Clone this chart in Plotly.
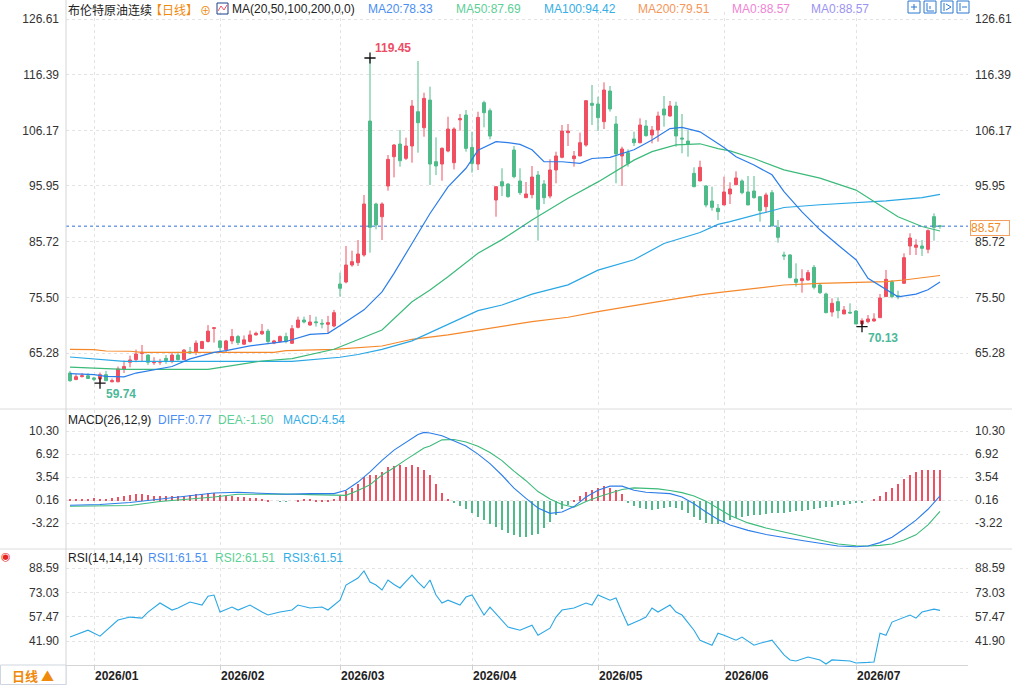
import plotly.graph_objects as go

# ---------------- data ----------------
month_labels = ["2026/01", "2026/02", "2026/03", "2026/04", "2026/05", "2026/06", "2026/07"]
month_start_idx = [4, 25, 45, 67, 88, 109, 131]

opens = [61.6, 60.4, 60.95, 61.1, 60.7, 60.5, 61.3, 60.0, 60.0, 62.35,
         63.57, 64.06, 65.2, 64.9, 63.5, 63.6, 64.3, 63.7, 64.9, 64.06,
         65.5, 65.5, 66.1, 67.4, 69.8, 67.5, 65.9, 67.5, 68.3, 66.9,
         67.4, 68.6, 68.8, 69.3, 67.1, 67.4, 68.3, 67.06, 69.99, 71.34,
         70.42, 71.0, 70.73, 70.55, 70.24, 77.95, 78.32, 81.44, 81.87, 83.28,
         107.88, 92.64, 90.3, 95.95, 101.33, 103.66, 101.03, 103.29, 109.59, 106.65,
         111.73, 100.41, 99.98, 102.37, 100.23, 108.1, 108.98, 103.04, 99.98, 111.25,
         109.78, 93.37, 96.74, 96.3, 102.56, 96.87, 93.8, 94.36, 97.97, 96.32,
         94.1, 98.89, 101.21, 105.74, 100.97, 101.46, 103.47, 111.13, 111.0, 107.76,
         113.39, 107.33, 101.46, 102.07, 104.58, 103.9, 106.96, 105.31, 106.23, 110.09,
         108.8, 110.64, 104.76, 104.21, 98.27, 96.87, 95.95, 93.19, 91.85, 92.46,
         94.48, 96.19, 96.87, 94.85, 95.03, 93.99, 92.15, 94.72, 88.36, 83.28,
         83.28, 78.87, 78.57, 78.69, 81.01, 77.77, 76.12, 72.81, 74.71, 72.45,
         72.75, 72.99, 70.61, 71.04, 71.16, 71.77, 75.63, 78.38, 75.8, 78.08,
         84.93, 84.69, 84.93, 84.32, 90.32, 88.6]
highs = [62.0, 61.36, 61.6, 61.55, 60.9, 61.7, 62.0, 60.6, 62.8, 63.9,
         64.8, 65.9, 66.75, 65.0, 64.5, 64.2, 64.9, 65.3, 65.5, 66.0,
         66.4, 67.6, 67.5, 70.4, 70.0, 67.7, 67.7, 69.7, 68.6, 68.5,
         69.4, 69.2, 70.6, 69.7, 67.7, 68.5, 69.0, 70.4, 71.96, 71.96,
         72.26, 71.96, 71.5, 72.1, 73.2, 80.03, 84.93, 84.07, 86.03, 94.3,
         119.45, 92.88, 92.94, 101.64, 103.66, 106.23, 104.82, 111.73, 118.9, 113.08,
         114.18, 104.88, 103.04, 108.67, 106.72, 109.16, 109.9, 105.92, 109.59, 111.61,
         110.2, 95.95, 99.19, 96.5, 103.3, 99.19, 96.68, 99.62, 98.7, 97.05,
         100.85, 102.25, 107.15, 107.33, 102.37, 105.74, 111.74, 114.49, 112.35, 114.98,
         114.31, 108.8, 103.17, 102.68, 105.92, 108.37, 108.07, 106.96, 109.6, 112.47,
         111.55, 111.43, 109.17, 106.23, 99.38, 100.6, 96.13, 95.83, 92.64, 97.66,
         96.62, 98.64, 97.17, 97.78, 97.78, 93.99, 94.72, 95.21, 89.71, 83.89,
         83.46, 81.75, 80.65, 80.53, 81.44, 77.95, 76.36, 75.32, 75.51, 73.9,
         74.4, 73.18, 71.65, 72.26, 72.57, 76.12, 80.53, 78.69, 76.73, 83.59,
         87.26, 86.16, 86.03, 87.99, 90.93, 88.8]
lows = [60.0, 60.3, 60.8, 60.5, 60.1, 59.74, 60.1, 59.9, 59.9, 61.6,
        62.65, 63.57, 63.7, 63.1, 63.1, 63.1, 63.3, 63.4, 63.9, 64.0,
        65.1, 64.9, 66.0, 67.2, 67.2, 65.5, 65.5, 66.9, 66.75, 66.75,
        67.2, 68.5, 68.6, 66.9, 66.9, 67.2, 67.05, 66.94, 69.8, 70.73,
        70.3, 70.12, 69.8, 68.9, 70.0, 75.63, 78.07, 81.13, 81.26, 82.97,
        83.71, 87.99, 86.03, 95.09, 97.54, 99.5, 100.72, 100.23, 102.06, 105.0,
        96.13, 97.96, 96.92, 102.13, 99.0, 106.1, 102.25, 98.39, 98.88, 106.72,
        104.51, 90.31, 94.11, 93.8, 97.36, 94.3, 93.8, 93.68, 85.91, 92.64,
        93.68, 96.44, 101.03, 103.29, 99.5, 101.46, 103.17, 107.15, 106.04, 106.41,
        109.6, 96.44, 95.95, 99.5, 103.29, 103.78, 105.01, 103.78, 104.09, 106.84,
        108.68, 103.17, 101.95, 101.33, 95.7, 96.87, 92.03, 91.42, 89.71, 92.46,
        92.64, 96.07, 94.42, 92.46, 93.62, 89.4, 91.05, 88.6, 85.54, 82.36,
        78.99, 77.47, 76.36, 78.57, 76.97, 76.12, 72.57, 71.96, 71.65, 72.45,
        72.57, 70.61, 70.13, 70.73, 71.04, 71.77, 75.63, 75.32, 75.14, 77.95,
        83.28, 83.28, 83.1, 83.59, 85.91, 88.1]
closes = [60.2, 60.93, 61.1, 60.6, 60.45, 61.3, 60.2, 60.2, 62.35, 62.8,
          64.0, 65.1, 65.4, 63.57, 63.7, 63.7, 63.9, 64.9, 64.06, 65.8,
          65.28, 67.1, 67.4, 69.3, 69.9, 66.3, 67.5, 68.3, 67.2, 67.7,
          68.6, 68.9, 69.25, 67.4, 67.5, 68.3, 67.4, 69.75, 71.34, 70.97,
          70.97, 70.85, 70.6, 70.85, 72.69, 77.16, 81.44, 82.05, 83.46, 92.64,
          88.36, 88.78, 92.64, 100.84, 103.47, 100.6, 103.29, 110.63, 107.57, 112.04,
          99.98, 99.62, 102.86, 106.41, 106.41, 108.3, 102.86, 100.1, 108.55, 109.41,
          105.12, 95.82, 95.95, 93.99, 97.66, 94.72, 94.48, 97.6, 91.67, 93.8,
          98.89, 101.46, 106.04, 106.04, 101.46, 103.9, 111.62, 110.76, 108.5, 113.57,
          110.09, 101.83, 102.74, 100.1, 103.9, 107.15, 105.19, 106.23, 108.8, 108.98,
          110.64, 105.13, 104.58, 103.66, 95.83, 99.38, 92.46, 92.03, 91.24, 94.85,
          95.4, 97.42, 94.72, 92.46, 93.81, 91.42, 94.3, 88.6, 86.52, 83.1,
          79.12, 78.26, 78.93, 80.04, 77.34, 76.36, 72.69, 74.4, 73.06, 73.18,
          72.62, 70.61, 71.22, 71.53, 71.53, 75.38, 78.81, 75.63, 75.63, 82.79,
          86.4, 85.11, 84.5, 87.75, 88.36, 88.57]

ma20_idx = [0, 4, 6, 9, 11, 14, 17, 20, 24, 26, 30, 33, 36, 40, 43, 46, 49, 52, 54, 57, 60, 63, 66, 68, 71,
            73, 75, 77, 79, 82, 85, 87, 90, 94, 97, 100, 102, 105, 107, 109, 111, 114, 117, 119, 122, 125,
            128, 131, 133, 136, 138, 141, 143, 145]
ma20_val = [61.5, 61.3, 61.0, 60.9, 61.6, 62.2, 62.8, 64.2, 65.4, 65.7, 66.6, 67.0, 67.4, 68.7, 68.9, 71.0,
            73.2, 76.5, 79.9, 85.4, 90.9, 95.8, 99.2, 102.5, 104.1, 103.9, 103.6, 102.6, 100.4, 100.4,
            100.1, 101.0, 101.2, 102.6, 104.4, 106.5, 106.7, 105.9, 104.4, 103.0, 101.3, 99.8, 98.0, 94.9,
            91.2, 87.9, 85.1, 82.4, 79.0, 76.9, 75.6, 76.1, 76.9, 78.33]
ma50_idx = [0, 6, 9, 23, 26, 32, 37, 44, 52, 57, 60, 63, 68, 72, 77, 83, 88, 94, 97, 101, 105, 108, 110,
            114, 119, 125, 131, 134, 138, 142, 145]
ma50_val = [62.7, 62.46, 62.28, 62.28, 62.77, 63.81, 64.24, 65.96, 69.5, 74.7, 76.85, 79.3, 83.6, 86.1,
            89.7, 93.7, 96.7, 100.7, 102.25, 103.5, 103.7, 102.8, 102.4, 101.0, 98.9, 97.4, 95.2, 93.1,
            90.3, 88.5, 87.69]
ma100_idx = [0, 6, 9, 37, 45, 48, 52, 57, 63, 68, 72, 77, 83, 88, 94, 99, 105, 108, 110, 114, 119, 125,
             131, 136, 142, 145]
ma100_val = [64.55, 64.1, 63.75, 63.75, 64.5, 65.0, 65.96, 67.5, 70.55, 73.05, 74.1, 76.1, 77.8, 80.5,
             82.4, 85.4, 87.4, 88.9, 89.4, 90.6, 92.0, 92.5, 92.9, 93.2, 93.8, 94.42]
ma200_idx = [0, 4, 6, 10, 12, 34, 36, 44, 52, 57, 63, 68, 72, 77, 83, 88, 94, 99, 105, 108, 114, 119,
             125, 131, 136, 139, 145]
ma200_val = [65.95, 65.9, 65.65, 65.6, 65.4, 65.4, 65.7, 65.96, 66.57, 67.8, 68.6, 69.5, 70.12, 71.04,
             71.84, 72.88, 73.98, 74.9, 75.94, 76.36, 77.16, 77.77, 78.08, 78.2, 78.38, 78.69, 79.51]

macd_hist = [0.3, 0.3, 0.3, 0.3,
             0.4, 0.3, 0.3, 0.4, 0.6, 0.8, 0.9,
             1.0, 1.0, 0.9, 0.8, 0.7, 0.7, 0.7, 0.8, 0.8, 0.9,
             1.0, 1.0, 1.2, 1.2, 0.9, 0.8, 0.7, 0.6, 0.6, 0.5,
             0.4, 0.3, 0.1, 0.0, -0.1, -0.1, 0.0, 0.2, 0.3, 0.3, 0.2, 0.1, 0.1, 0.3,
             0.8, 1.5, 2.0, 2.5, 3.5, 3.8, 3.9, 4.3, 5.0, 5.2, 5.3, 5.0, 5.3, 5.0, 4.6, 3.8,
             2.5, 1.2, 0.3,
             -0.3, -0.7, -1.2, -1.8, -2.3, -2.8, -3.3, -3.8, -4.3, -4.7, -5.0, -5.2, -5.2, -5.0,
             -4.8, -4.0, -3.0, -2.0, -1.2, -0.5, 0.2,
             0.8, 1.3, 1.7, 2.0, 2.2, 2.0, 1.6, 1.0,
             -0.3, -0.7, -1.0, -1.2, -1.3, -1.2, -1.0, -0.9,
             -1.0, -1.3, -1.8, -2.3, -2.8, -3.2, -3.4, -3.3, -3.0, -2.8,
             -2.5, -2.3, -2.2, -2.0, -2.0, -1.9, -1.8, -1.8, -1.7, -1.6, -1.5, -1.4, -1.3, -1.2,
             -1.0, -0.9, -0.8, -0.6, -0.5, -0.4,
             -0.3, -0.2, 0.0, 0.3, 0.8, 1.4,
             2.0, 2.5, 3.2, 3.9, 4.3, 4.5, 4.6, 4.6, 4.54]
diff_idx = [0, 5, 10, 15, 20, 24, 28, 32, 36, 40, 44, 46, 48, 50, 52, 54, 56, 58, 59, 60, 62, 64, 66, 68,
            70, 72, 74, 76, 78, 80, 82, 84, 86, 88, 90, 92, 94, 96, 98, 100, 102, 104, 106, 108, 110,
            113, 116, 119, 122, 125, 128, 131, 133, 135, 137, 139, 141, 143, 145]
diff_val = [-0.6, -0.5, -0.2, 0.3, 0.7, 1.2, 1.3, 1.2, 1.0, 1.1, 1.1, 1.6, 2.8, 4.3, 6.0, 7.5, 8.6, 9.8,
            10.1, 10.0, 9.6, 8.9, 8.1, 6.9, 5.5, 3.8, 1.9, 0.4, -1.0, -1.8, -1.6, -0.8, 0.6, 1.6, 2.2,
            2.2, 1.6, 1.3, 1.2, 1.1, 0.6, -0.4, -1.6, -2.7, -3.5, -4.3, -4.9, -5.4, -5.8, -6.2, -6.6,
            -6.7, -6.6, -6.1, -5.3, -4.1, -2.8, -1.2, 0.77]
dea_val = [-0.75, -0.65, -0.65, -0.05, 0.25, 0.6, 1.0, 1.05, 1.05, 0.95, 0.95, 0.85, 1.55, 2.4, 3.85,
           4.9, 6.1, 7.3, 7.8, 8.1, 9.0, 9.05, 8.7, 8.05, 7.15, 5.95, 4.4, 3.0, 1.4, 0.3, -0.5, -0.9,
           -0.05, 0.6, 1.2, 1.7, 1.95, 1.9, 1.8, 1.55, 1.25, 0.75, 0.0, -1.05, -2.1, -3.2, -3.95,
           -4.55, -5.1, -5.7, -6.3, -6.55, -6.6, -6.5, -6.3, -5.7, -4.95, -3.5, -1.5]

rsi_idx = [0, 2, 3, 5, 7, 8, 10, 12, 13, 15, 17, 18, 20, 22, 23, 24, 25, 27, 28, 30, 32, 33, 35, 37, 38,
           40, 42, 43, 45, 46, 48, 49, 50, 51, 52, 53, 54, 55, 56, 57, 58, 59, 60, 61, 62, 63, 65, 66,
           67, 68, 69, 70, 72, 73, 75, 77, 78, 80, 81, 82, 84, 86, 87, 88, 90, 91, 92, 93, 95, 96, 97,
           98, 100, 101, 102, 104, 105, 107, 108, 109, 111, 112, 114, 115, 117, 118, 119, 120, 121,
           123, 125, 126, 127, 130, 131, 133, 134, 135, 136, 137, 139, 140, 141, 142, 144, 145]
rsi_val = [44.4, 47.5, 48.8, 45.0, 52.0, 55.3, 57.2, 56.5, 60.4, 66.2, 61.7, 63.0, 66.8, 64.9, 70.6,
           71.3, 60.4, 63.6, 61.7, 64.9, 60.4, 58.5, 60.4, 61.7, 64.9, 63.0, 63.6, 61.7, 68.0, 77.7,
           82.2, 86.7, 79.6, 77.7, 74.5, 80.9, 78.0, 75.8, 80.0, 84.1, 79.6, 75.8, 80.9, 71.3, 66.2,
           68.0, 64.9, 70.0, 71.3, 64.9, 58.5, 63.6, 55.3, 50.8, 48.8, 52.0, 45.6, 50.1, 57.2, 61.7,
           63.0, 66.2, 64.9, 71.3, 68.0, 69.4, 60.4, 52.0, 55.3, 57.2, 63.0, 60.4, 64.9, 60.4, 58.5,
           48.8, 42.4, 39.2, 46.9, 45.6, 42.4, 44.4, 39.2, 40.5, 42.4, 38.0, 33.0, 29.8, 29.1, 31.7,
           29.8, 27.2, 29.8, 29.1, 27.8, 28.2, 28.5, 46.9, 45.6, 54.0, 57.2, 58.5, 56.5, 60.4, 62.3,
           61.51]

price_ticks = [126.61, 116.39, 106.17, 95.95, 85.72, 75.50, 65.28]
macd_ticks = [10.30, 6.92, 3.54, 0.16, -3.22]
rsi_ticks = [88.59, 73.03, 57.47, 41.90]

# ---------------- style / layout helpers ----------------
W, H = 1012, 685
ML, MR, MT, MB = 66, 44, 12, 20
PW, PH = W - ML - MR, H - MT - MB
def px(x): return (x - ML) / PW
def py(y): return (H - MB - y) / PH

RED = "#ef5061"
GREEN = "#4fbb89"
C_MA20, C_MA50, C_MA100, C_MA200 = "#2b7de9", "#3cba7a", "#2aa7e4", "#f5882b"
FONT = "Liberation Sans, Arial, sans-serif"
CJK = "Noto Sans CJK SC, sans-serif"
GRID = "#e3e3e3"
TXT = "#333333"

idx = list(range(len(closes)))
XR = [-4 / 6, -4 / 6 + PW / 6]

fig = go.Figure()
fig.add_trace(go.Candlestick(
    x=idx, open=opens, high=highs, low=lows, close=closes,
    increasing=dict(line=dict(color=RED, width=1), fillcolor=RED),
    decreasing=dict(line=dict(color=GREEN, width=1), fillcolor=GREEN),
    whiskerwidth=0, xaxis="x", yaxis="y", hoverinfo="skip"))
for xi, yv, c in [(ma200_idx, ma200_val, C_MA200), (ma100_idx, ma100_val, C_MA100),
                  (ma50_idx, ma50_val, C_MA50), (ma20_idx, ma20_val, C_MA20)]:
    fig.add_trace(go.Scatter(x=xi, y=yv, mode="lines", line=dict(color=c, width=1.2),
                             xaxis="x", yaxis="y", hoverinfo="skip"))

# extreme markers
ext_i = [50, 5, 132]
ext_v = [highs[50], lows[5], lows[132]]
fig.add_trace(go.Scatter(x=ext_i, y=ext_v, mode="markers", xaxis="x", yaxis="y",
                         marker=dict(symbol="cross-thin", size=8, line=dict(width=1.3, color="#111")),
                         hoverinfo="skip"))

fig.add_trace(go.Bar(x=idx, y=macd_hist, width=0.2,
                     marker=dict(color=[RED if v >= 0 else GREEN for v in macd_hist], line=dict(width=0)),
                     xaxis="x2", yaxis="y2", hoverinfo="skip"))
fig.add_trace(go.Scatter(x=diff_idx, y=dea_val, mode="lines", line=dict(color=C_MA50, width=1.1),
                         xaxis="x2", yaxis="y2", hoverinfo="skip"))
fig.add_trace(go.Scatter(x=diff_idx, y=diff_val, mode="lines", line=dict(color=C_MA20, width=1.1),
                         xaxis="x2", yaxis="y2", hoverinfo="skip"))
fig.add_trace(go.Scatter(x=rsi_idx, y=rsi_val, mode="lines", line=dict(color=C_MA100, width=1.1),
                         xaxis="x3", yaxis="y3", hoverinfo="skip"))
# invisible anchors for right-side axes
for ya, xa, v in [("y4", "x", price_ticks[0]), ("y5", "x2", macd_ticks[0]), ("y6", "x3", rsi_ticks[0])]:
    fig.add_trace(go.Scatter(x=[0], y=[v], mode="markers", marker=dict(opacity=0), xaxis=xa, yaxis=ya,
                             hoverinfo="skip"))

tickfont = dict(family=FONT, size=12, color=TXT)
def yax(dom, rng, ticks, side="left", overlay=None, grid=True, anchor="x"):
    d = dict(domain=dom, range=rng, tickvals=ticks, ticktext=[f"{t:.2f}" for t in ticks], side=side,
             showgrid=grid, gridcolor=GRID, griddash="dot", zeroline=False, tickfont=tickfont,
             ticks="", fixedrange=True, anchor=anchor, ticklabelstandoff=6, automargin=False)
    if overlay:
        d["overlaying"] = overlay
    return d

main_dom = [py(408), 1.0]
macd_dom = [py(548), py(410)]
rsi_dom = [0.0, py(550)]
main_rng = [55.18, 127.9]
macd_rng = [-6.89, 13.39]
rsi_rng = [26.55, 100.1]

def xax(anchor, labels):
    d = dict(range=XR, anchor=anchor, tickvals=month_start_idx, ticktext=month_labels,
             showgrid=True, gridcolor=GRID, griddash="dot", zeroline=False, showticklabels=labels,
             rangeslider=dict(visible=False), fixedrange=True, automargin=False)
    if labels:
        d.update(ticks="outside", ticklen=4, tickcolor="#cfcfcf", ticklabelposition="outside right",
                 tickfont=dict(family=FONT, size=12, color="#222", weight="bold"),
                 showline=True, linecolor="#d5d5d5")
    else:
        d.update(ticks="")
    return d

shapes = [
    dict(type="line", xref="paper", yref="y", x0=0, x1=1, y0=closes[-1], y1=closes[-1],
         line=dict(color="#2f6fd3", width=1, dash="3px,3px")),
    dict(type="line", xref="paper", yref="paper", x0=px(0), x1=px(W), y0=py(409), y1=py(409),
         line=dict(color="#dcdcdc", width=1)),
    dict(type="line", xref="paper", yref="paper", x0=px(0), x1=px(W), y0=py(549), y1=py(549),
         line=dict(color="#dcdcdc", width=1)),
    dict(type="line", xref="paper", yref="paper", x0=0, x1=0, y0=py(H), y1=py(0),
         line=dict(color="#d5d5d5", width=1)),
    dict(type="rect", xref="paper", yref="paper", x0=px(0.5), x1=px(66), y0=py(684.5), y1=py(665),
         line=dict(color="#cfd6e0", width=1), fillcolor="white"),
]
# top-right toolbar icons
for x0 in [908, 924, 941, 957]:
    shapes.append(dict(type="rect", xref="paper", yref="paper", x0=px(x0), x1=px(x0 + 12),
                       y0=py(13), y1=py(1), line=dict(color="#2a78d0", width=1)))
icon_lines = [(911, 7, 917, 7), (914, 4, 914, 10), (927, 3, 927, 11), (927, 11, 934, 11), (930, 6, 930, 9),
              (944, 3, 944, 11), (946, 4, 951, 7), (946, 10, 951, 7), (960, 3, 960, 11), (962, 7, 967, 7)]
for a, b, c, d in icon_lines:
    shapes.append(dict(type="line", xref="paper", yref="paper", x0=px(a), y0=py(b), x1=px(c), y1=py(d),
                       line=dict(color="#2a78d0", width=1)))
# small chart icon in title
shapes.append(dict(type="rect", xref="paper", yref="paper", x0=px(217), x1=px(228), y0=py(14), y1=py(3),
                   line=dict(color="#1d3f8a", width=1)))
shapes.append(dict(type="path", xref="paper", yref="paper",
                   path=f"M {px(218)} {py(11)} L {px(221)} {py(6)} L {px(224)} {py(10)} L {px(227)} {py(5)}",
                   line=dict(color=RED, width=1)))

ann = []
def txt(x, y, s, color=TXT, size=12, family=FONT, bold=False, anchor="left"):
    ann.append(dict(xref="paper", yref="paper", x=px(x), y=py(y), text=s, showarrow=False,
                    xanchor=anchor, yanchor="middle", borderpad=0,
                    font=dict(family=family, size=size, color=color, weight="bold" if bold else "normal")))

txt(67, 9, "布伦特原油连续", "#222", 12, CJK)
txt(149, 9, "【日线】", "#f08a0c", 12, CJK)
txt(199, 10, "⊕", "#f08a0c", 11, CJK)
txt(231, 9, "MA(20,50,100,200,0,0)", "#222", 12)
txt(367, 9, "MA20:78.33", "#4a8ef2", 12)
txt(455, 9, "MA50:87.69", "#5ccf96", 12)
txt(543, 9, "MA100:94.42", "#35aee6", 12)
txt(637, 9, "MA200:79.51", "#f5965a", 12)
txt(731, 9, "MA0:88.57", "#ef84d4", 12)
txt(810, 9, "MA0:88.57", "#9b93f0", 12)

txt(67, 420, "MACD(26,12,9)", "#222", 12)
txt(157, 420, "DIFF:0.77", "#4a8ef2", 12)
txt(217, 420, "DEA:-1.50", "#5ccf96", 12)
txt(282, 420, "MACD:4.54", "#35aee6", 12)

txt(67, 558, "RSI(14,14,14)", "#222", 12)
txt(147, 558, "RSI1:61.51", "#4a8ef2", 12)
txt(214, 558, "RSI2:61.51", "#5ccf96", 12)
txt(282, 558, "RSI3:61.51", "#35aee6", 12)

txt(6, 556, "◉", "#e8231c", 11, "DejaVu Sans", anchor="center")
txt(33, 675, "日线 ▲", "#f08a0c", 13, CJK, bold=True, anchor="center")

# extreme labels
ann.append(dict(xref="x", yref="y", x=50, y=highs[50], text=f"{highs[50]:.2f}", showarrow=False,
                xanchor="left", yanchor="bottom", xshift=3, yshift=1,
                font=dict(family=FONT, size=12, color="#ee4d65", weight="bold")))
ann.append(dict(xref="x", yref="y", x=5, y=lows[5], text=f"{lows[5]:.2f}", showarrow=False,
                xanchor="left", yanchor="top", xshift=4, yshift=-2,
                font=dict(family=FONT, size=12, color="#4cb89a", weight="bold")))
ann.append(dict(xref="x", yref="y", x=132, y=lows[132], text=f"{lows[132]:.2f}", showarrow=False,
                xanchor="left", yanchor="top", xshift=4, yshift=-2,
                font=dict(family=FONT, size=12, color="#4cb89a", weight="bold")))
# last price label on right axis
ann.append(dict(xref="paper", yref="y", x=px(970), y=closes[-1], text=f"{closes[-1]:.2f}", showarrow=False,
                xanchor="left", yanchor="middle", yshift=-2, bgcolor="white", bordercolor="#f5a060",
                borderwidth=1, borderpad=0, width=38, align="left",
                font=dict(family=FONT, size=12, color="#f08a24")))

fig.update_layout(
    width=W, height=H, margin=dict(l=ML, r=MR, t=MT, b=MB, pad=0, autoexpand=False),
    paper_bgcolor="white", plot_bgcolor="white", showlegend=False, hovermode=False,
    xaxis=xax("y", False), xaxis2=xax("y2", False), xaxis3=xax("y3", True),
    yaxis=yax(main_dom, main_rng, price_ticks),
    yaxis2=yax(macd_dom, macd_rng, macd_ticks, anchor="x2"),
    yaxis3=yax(rsi_dom, rsi_rng, rsi_ticks, anchor="x3"),
    yaxis4=yax(main_dom, main_rng, price_ticks, side="right", overlay="y", grid=False),
    yaxis5=yax(macd_dom, macd_rng, macd_ticks, side="right", overlay="y2", grid=False, anchor="x2"),
    yaxis6=yax(rsi_dom, rsi_rng, rsi_ticks, side="right", overlay="y3", grid=False, anchor="x3"),
    shapes=shapes, annotations=ann, bargap=0,
)
fig.write_html("out.html")
